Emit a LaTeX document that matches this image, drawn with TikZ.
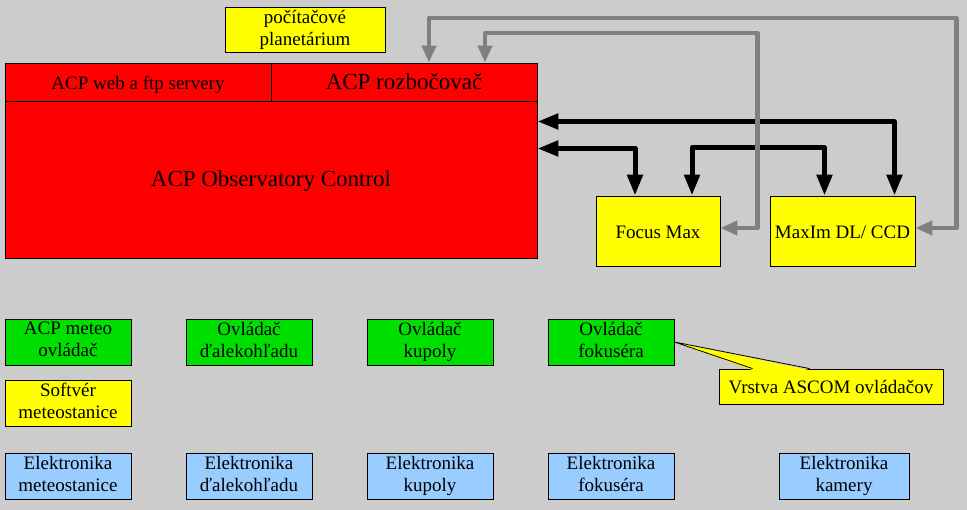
\documentclass[tikz,border=0pt]{standalone}
\usepackage{fontspec}
\setmainfont{Liberation Serif}
\usetikzlibrary{arrows.meta,positioning,calc}
\definecolor{bgrey}{HTML}{CCCCCC}
\definecolor{acpred}{HTML}{FF0000}
\definecolor{swyellow}{HTML}{FFFF00}
\definecolor{drvgreen}{HTML}{00E000}
\definecolor{hwblue}{HTML}{99CCFF}
\definecolor{linkgrey}{HTML}{808080}
\newcommand\boxstrut{\rule[-5pt]{0pt}{25pt}}

\begin{document}
\begin{tikzpicture}[x=1pt,y=-1pt,font=\fontsize{19}{22}\selectfont,
  box/.style={draw=black,line width=0.8pt,align=center,inner sep=0pt,
              minimum width=126pt,minimum height=46pt,
              execute at begin node=\boxstrut,execute at end node=\boxstrut},
  bigtext/.style={font=\fontsize{23}{26}\selectfont},
  blkarrow/.style={line width=5pt,line join=round,
              {Triangle[length=21pt,width=15pt]}-{Triangle[length=21pt,width=15pt]}},
  gryarrow/.style={draw=linkgrey,line width=4.2pt,line join=round,
              {Triangle[length=17pt,width=14pt]}-{Triangle[length=17pt,width=14pt]}}]
  \fill[bgrey] (0,0) rectangle (967,510);
  \useasboundingbox (0,0) rectangle (967,510);

  % ACP block
  \node[box,fill=swyellow,minimum width=160pt,minimum height=45pt] (planet) at (305,30)
       {počítačové\\planetárium};
  \node[box,fill=acpred,minimum width=266pt,minimum height=38pt] (web) at (138,82)
       {ACP web a ftp servery};
  \node[box,bigtext,fill=acpred,minimum width=266pt,minimum height=38pt] (rozb) at (404,82)
       {ACP rozbočovač};
  \node[box,bigtext,fill=acpred,minimum width=532pt,minimum height=157pt] (acp) at (271,179.5)
       {ACP Observatory Control};

  % camera / focuser software
  \node[box,fill=swyellow,minimum width=124pt,minimum height=70pt] (focus) at (658,231) {Focus Max};
  \node[box,fill=swyellow,minimum width=145pt,minimum height=70pt] (maxim) at (842.5,231) {MaxIm DL/ CCD};

  % drivers
  \foreach \i/\txt in {%
    0/{ACP meteo\\ovládač},
    1/{Ovládač\\ďalekohľadu},
    2/{Ovládač\\kupoly},
    3/{Ovládač\\fokuséra}}
  {
    \node[box,fill=drvgreen] (ovl\i) at ({68+\i*181},342) {\txt};
  }
  \node[box,fill=swyellow] (softmeteo) at (68,403) {Softvér\\meteostanice};

  % hardware
  \foreach \x/\w/\nm/\txt in {%
    68/126/meteo/{Elektronika\\meteostanice},
    249/126/dalek/{Elektronika\\ďalekohľadu},
    430/126/kupola/{Elektronika\\kupoly},
    611/126/fokus/{Elektronika\\fokuséra},
    844/130/kamera/{Elektronika\\kamery}}
  {
    \node[box,fill=hwblue,minimum width=\w pt] (el\nm) at (\x,476) {\txt};
  }

  % ASCOM callout
  \node[box,fill=swyellow,minimum width=224pt,minimum height=35pt] (ascom) at (831,386.5)
       {Vrstva ASCOM ovládačov};
  \coordinate (cl1) at ($(ascom.north west)+(34,1.5)$);
  \coordinate (cl2) at ($(ascom.north west)+(91,1.5)$);
  \fill[swyellow] (ovl3.east) -- (cl1) -- (cl2) -- cycle;
  \draw[line width=0.8pt] ($(ascom.north west)+(34,0)$) -- (ovl3.east) -- ($(ascom.north west)+(91,0)$);

  % links
  \draw[blkarrow] ([yshift=58pt]acp.east) -| ([xshift=52pt]maxim.north);
  \draw[blkarrow] ([yshift=31pt]acp.east) -| ([xshift=-23pt]focus.north);
  \draw[blkarrow] ([xshift=34pt]focus.north) -- ++(0,-48) -| ([xshift=-18pt]maxim.north);
  \draw[gryarrow] ([yshift=3pt]maxim.east) -- ++(41,0) -- ++(0,-210) -| ([xshift=25pt]rozb.north);
  \draw[gryarrow] ([yshift=3pt]focus.east) -- ++(37,0) -- ++(0,-195) -| ([xshift=81pt]rozb.north);
\end{tikzpicture}
\end{document}
